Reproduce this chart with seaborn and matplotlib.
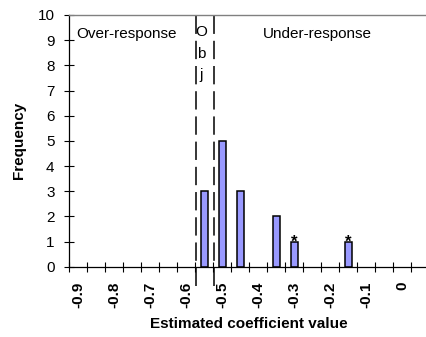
import numpy as np
import pandas as pd
import matplotlib
matplotlib.use("Agg")
import matplotlib.pyplot as plt
import seaborn as sns

# Histogram of estimated coefficients (class width 0.05)
coef_values = [-0.55, -0.50, -0.45, -0.35, -0.30, -0.15]
frequencies = [3, 5, 3, 2, 1, 1]
flagged_values = [-0.30, -0.15]
flagged_freqs = [1, 1]
bound_values = [-0.574, -0.522]
tick_values = [-0.9, -0.8, -0.7, -0.6, -0.5, -0.4, -0.3, -0.2, -0.1, 0.0]
tick_labels = ["-0.9", "-0.8", "-0.7", "-0.6", "-0.5", "-0.4", "-0.3", "-0.2", "-0.1", "0"]
y_ticks = list(range(0, 11))

FS = 11

sns.set_theme(style="white")
plt.rcParams["font.family"] = ["Liberation Sans", "DejaVu Sans"]

fig = plt.figure(figsize=(4.26, 3.37), dpi=100)
ax = fig.add_axes([0.1627, 0.2086, 0.845, 0.7469])

df = pd.DataFrame({"coef": coef_values, "freq": frequencies})
sns.barplot(data=df, x="coef", y="freq", native_scale=True, width=0.37,
            color="#9999ff", saturation=1, edgecolor="black", linewidth=1.1,
            errorbar=None, ax=ax)

ax.set_xlim(-0.925, 0.075)
ax.set_ylim(0, 10)

# category labels at class centres, separators between classes
ax.set_xticks(tick_values)
ax.set_xticklabels(tick_labels, rotation=90, fontweight="bold", fontsize=FS)
ax.set_xticks(np.arange(-0.925, 0.076, 0.05), minor=True)
ax.tick_params(axis="x", which="major", length=0, pad=10.5, colors="black")
ax.tick_params(axis="x", which="minor", direction="inout", length=7.2,
               width=0.8, color="black", bottom=True)
ax.set_yticks(y_ticks)
ax.tick_params(axis="y", which="major", direction="inout", length=7.2,
               width=0.8, color="black", left=True, pad=7, labelsize=FS,
               labelcolor="black")

for side in ["left", "bottom"]:
    ax.spines[side].set_color("black")
    ax.spines[side].set_linewidth(0.9)
ax.spines["top"].set_color("#808080")
ax.spines["top"].set_linewidth(1.0)
ax.spines["right"].set_visible(False)

# bounds of the objective interval
for b in bound_values:
    ax.plot([b, b], [-0.75, 10], color="black", lw=1.1,
            linestyle=(0, (12, 4.5)), clip_on=False)

for xv, fv in zip(flagged_values, flagged_freqs):
    ax.text(xv, fv - 0.22, "*", ha="center", va="baseline", fontsize=12,
            fontweight="bold", color="black")

ax.text(-0.9044, 9.245, "Over-response", ha="left", va="center",
        fontsize=FS, color="black")
ax.text(-0.387, 9.245, "Under-response", ha="left", va="center",
        fontsize=FS, color="black")
for i, ch in enumerate("Obj"):
    ax.text(-0.559, 9.33 - i * 0.86, ch, ha="center", va="center",
            fontsize=FS, color="black")

ax.set_ylabel("Frequency", fontweight="bold", fontsize=FS, color="black")
ax.yaxis.set_label_coords(-0.12, 0.5)
ax.set_xlabel("Estimated coefficient value", fontweight="bold", fontsize=FS,
              color="black")
ax.xaxis.set_label_coords(0.5, -0.2)

fig.savefig("out.png", dpi=100)
